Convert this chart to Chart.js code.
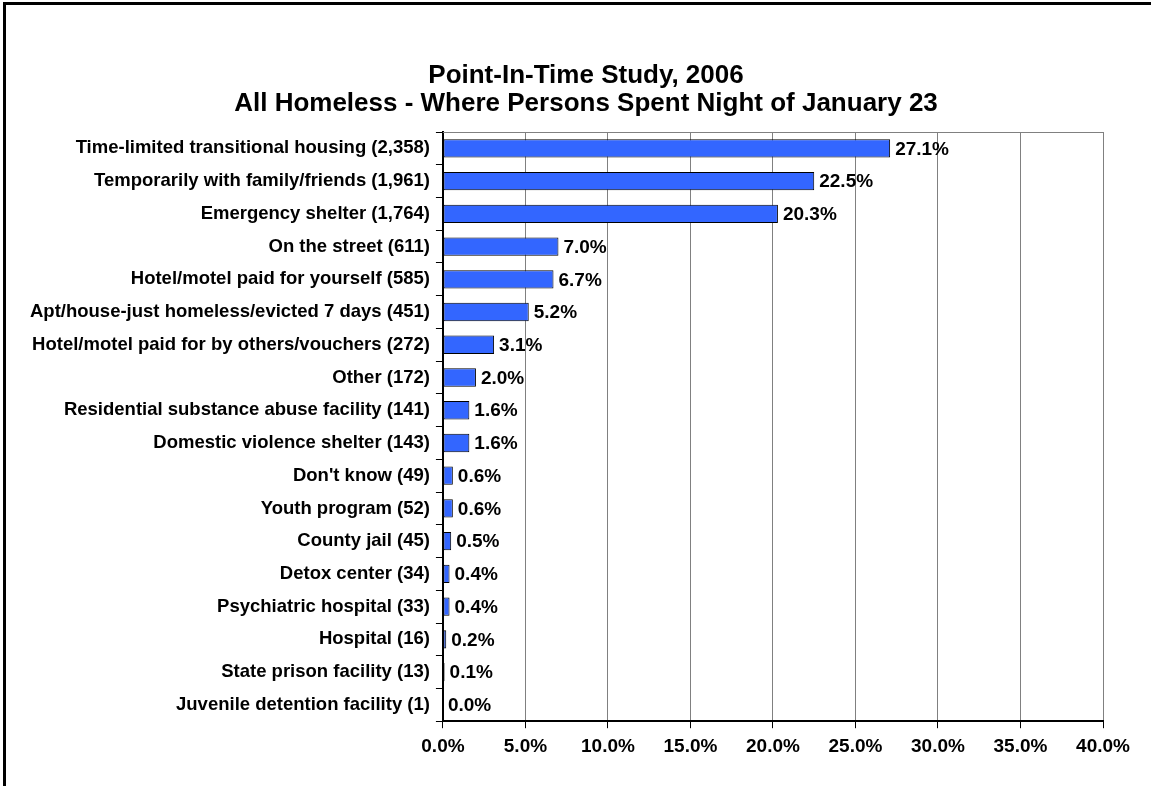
<!DOCTYPE html>
<html lang="en">
<head>
    <meta charset="UTF-8">
    <title>Point-In-Time Study, 2006</title>
    <script src="https://cdn.jsdelivr.net/npm/chart.js"></script>
    <style>
        body { margin: 0; background: #fff; }
        #frame {
            position: absolute; left: 3px; top: 2px; width: 1160px; height: 800px;
            border-left: 3px solid #000; border-top: 3px solid #000;
        }
        #wrap { position: absolute; left: 0; top: 0; width: 1151px; height: 786px; }
    </style>
</head>
<body>
    <div id="frame"></div>
    <div id="wrap"><canvas id="pitChart"></canvas></div>

    <script>
        // categories (with counts as shown on the chart)
        const categories = [
            'Time-limited transitional housing (2,358)',
            'Temporarily with family/friends (1,961)',
            'Emergency shelter (1,764)',
            'On the street (611)',
            'Hotel/motel paid for yourself (585)',
            'Apt/house-just homeless/evicted 7 days (451)',
            'Hotel/motel paid for by others/vouchers (272)',
            'Other (172)',
            'Residential substance abuse facility (141)',
            'Domestic violence shelter (143)',
            "Don't know (49)",
            'Youth program (52)',
            'County jail (45)',
            'Detox center (34)',
            'Psychiatric hospital (33)',
            'Hospital (16)',
            'State prison facility (13)',
            'Juvenile detention facility (1)'
        ];
        // percent of all homeless
        const percents = [27.1, 22.5, 20.3, 7.0, 6.7, 5.2, 3.1, 2.0, 1.6, 1.6, 0.6, 0.6, 0.5, 0.4, 0.4, 0.2, 0.1, 0.0];
        const titleLines = ['Point-In-Time Study, 2006', 'All Homeless - Where Persons Spent Night of January 23'];

        const FONT = "'Liberation Sans', Arial, sans-serif";

        // title, value labels at the end of each bar, gray frame on top of plot
        const barLabels = {
            id: 'barLabels',
            afterDatasetsDraw(chart) {
                const ctx = chart.ctx;
                const area = chart.chartArea;
                ctx.save();
                ctx.strokeStyle = '#808080';
                ctx.lineWidth = 1;
                ctx.beginPath();
                ctx.moveTo(area.left, area.top + 0.5);
                ctx.lineTo(area.right, area.top + 0.5);
                ctx.stroke();

                ctx.fillStyle = '#000';
                ctx.textBaseline = 'middle';

                // title (centred on the whole framed box, not the padded chart)
                ctx.font = 'bold 26px ' + FONT;
                ctx.textAlign = 'center';
                titleLines.forEach((t, i) => ctx.fillText(t, 586, 76 + i * 28));

                ctx.font = 'bold 19px ' + FONT;
                ctx.textAlign = 'left';
                chart.getDatasetMeta(0).data.forEach((bar, i) => {
                    ctx.fillText(percents[i].toFixed(1) + '%', bar.x + 5, bar.y + 1);
                });
                ctx.restore();
            }
        };

        const ctx = document.getElementById('pitChart').getContext('2d');
        new Chart(ctx, {
            type: 'bar',
            data: {
                labels: categories,
                datasets: [{
                    data: percents,
                    backgroundColor: '#3366FF',
                    borderColor: '#000',
                    borderWidth: 1,
                    borderSkipped: false,
                    categoryPercentage: 1,
                    barPercentage: 0.56
                }]
            },
            options: {
                indexAxis: 'y',
                responsive: true,
                maintainAspectRatio: false,
                animation: false,
                layout: { padding: { left: 24, right: 48, top: 132, bottom: 21 } },
                plugins: {
                    legend: { display: false },
                    tooltip: { enabled: false },
                    title: { display: false }
                },
                scales: {
                    x: {
                        min: 0,
                        max: 40,
                        ticks: {
                            stepSize: 5,
                            color: '#000',
                            padding: 7,
                            font: { family: FONT, size: 19, weight: 'bold' },
                            callback: v => v.toFixed(1) + '%'
                        },
                        grid: { color: '#808080', tickColor: '#000', tickLength: 7 },
                        border: { color: '#000', width: 2 }
                    },
                    y: {
                        ticks: {
                            color: '#000',
                            padding: 6,
                            font: { family: FONT, size: 18.5, weight: 'bold' }
                        },
                        grid: { offset: true, drawOnChartArea: false, color: '#000', tickLength: 7 },
                        border: { color: '#000', width: 2 }
                    }
                }
            },
            plugins: [barLabels]
        });
    </script>
</body>
</html>
